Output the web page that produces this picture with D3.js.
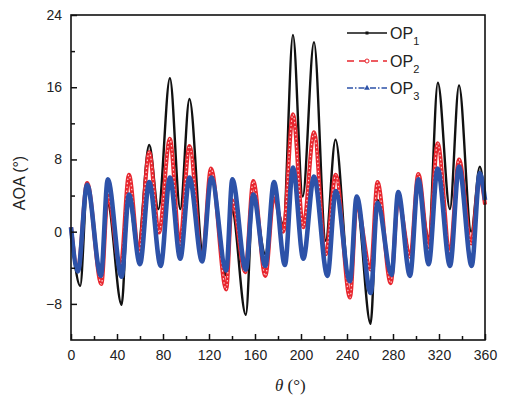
<!DOCTYPE html>
<html>
<head>
<meta charset="utf-8">
<script src="https://cdn.jsdelivr.net/npm/d3@7"></script>
<style>
  body { margin: 0; background: #fff; }
  svg text { font-family: "Liberation Sans", Arial, sans-serif; fill: #222; }
</style>
</head>
<body>
<div id="chart"></div>
<script>
// values (peaks / troughs of each curve)
const op1Theta = [0, 8, 14, 26, 32, 44, 50, 58, 68, 76, 86, 95, 103, 115, 122, 134.5, 140, 152, 158.5, 169, 176, 184.6, 193, 201.5, 211.3, 221.5, 230, 242, 248.4, 260.5, 266.5, 278.5, 284.5, 295, 302, 311, 319, 329.5, 337.4, 348, 355.5, 360]
const op1Aoa = [0.3, -6.0, 4.6, -5.0, 3.0, -8.1, 4.0, -2.0, 9.6, 2.5, 17.0, 2.5, 14.7, -2.7, 6.5, -4.8, 2.4, -9.2, 4.0, -2.5, 4.0, 0.8, 21.8, 3.9, 21.0, -1.0, 10.2, -5.2, 3.0, -10.2, 3.5, -4.6, 3.5, -2.5, 5.5, -0.6, 16.5, 2.5, 16.2, 0.0, 7.2, 3.0]

const op2Theta = [0, 6, 14, 26.4, 32, 43, 50.4, 59, 68, 76.5, 86, 94.5, 103, 114, 121.7, 135, 140, 151.5, 158.5, 169, 176.5, 184.6, 193, 202, 211.3, 221.5, 230.2, 242.6, 248.4, 260.6, 266.5, 278, 284.5, 295, 302, 311, 318.8, 329.5, 337.4, 348, 355.5, 360]
const op2Aoa = [0.5, -4.2, 5.4, -5.8, 4.0, -4.0, 6.3, -2.3, 8.8, -0.1, 10.3, -1.4, 9.5, -3.1, 7.0, -6.4, 3.5, -4.5, 5.6, -4.9, 4.0, 0.0, 13.0, 0.5, 11.0, -2.5, 6.3, -7.3, 3.0, -4.2, 5.5, -5.7, 3.5, -2.8, 6.4, -1.7, 9.8, -2.3, 8.0, -1.3, 6.0, 3.0]

const op3Theta = [0, 6, 14, 26, 32, 44, 50.4, 60, 68, 78, 86, 95, 103, 114, 122, 135, 140.3, 152, 158.5, 169, 176.5, 186, 193, 202, 211.3, 223, 230.2, 242.6, 248.4, 260.6, 266.5, 278.8, 284.5, 294.8, 302, 311, 318.8, 329.6, 337.4, 348.4, 355.5, 360]
const op3Aoa = [0.5, -4.4, 5.2, -4.9, 5.8, -5.0, 4.1, -3.6, 5.5, -3.8, 6.0, -3.0, 6.0, -3.3, 6.0, -4.3, 5.8, -4.2, 4.1, -3.8, 5.5, -3.7, 7.1, -3.0, 6.1, -4.9, 4.5, -5.5, 3.9, -6.8, 3.2, -4.8, 4.4, -4.9, 5.8, -3.6, 7.0, -3.8, 7.2, -3.8, 6.5, 3.5]

const xTicks = [0, 40, 80, 120, 160, 200, 240, 280, 320, 360]
const yTicks = [-8, 0, 8, 16, 24]
const seriesNames = ["OP", "OP", "OP"]
const seriesSubs = ["1", "2", "3"]

const W = 505, H = 399
const margin = {top: 15, right: 20, bottom: 59, left: 71}
const width = W - margin.left - margin.right,
    height = H - margin.top - margin.bottom

const svg = d3.select("#chart")
    .append("svg")
    .attr("width", W)
    .attr("height", H)

const g = svg.append("g")
    .attr("transform", `translate(${margin.left},${margin.top})`)

const x = d3.scaleLinear().domain([0, 360]).range([0, width])
const y = d3.scaleLinear().domain([-12, 24]).range([height, 0])

const toPts = (th, v) => th.map((t, i) => ({t: t, v: v[i]}))
const line = d3.line()
    .x(d => x(d.t))
    .y(d => y(d.v))
    .curve(d3.curveMonotoneX)

const plot = g.append("g")

// OP1 black
plot.append("path")
    .datum(toPts(op1Theta, op1Aoa))
    .attr("d", line)
    .attr("fill", "none")
    .attr("stroke", "#111")
    .attr("stroke-width", 2.4)
    .attr("stroke-linejoin", "round")

// OP2 red, hollow circles drawn densely -> band with white specks
const red = toPts(op2Theta, op2Aoa)
plot.append("path")
    .datum(red)
    .attr("d", line)
    .attr("fill", "none")
    .attr("stroke", "#e8262e")
    .attr("stroke-width", 4)
    .attr("stroke-linejoin", "round")
plot.append("path")
    .datum(red)
    .attr("d", line)
    .attr("fill", "none")
    .attr("stroke", "#fbd3d3")
    .attr("stroke-width", 1.2)
    .attr("stroke-dasharray", "1.5 2.5")

// OP3 blue triangles
plot.append("path")
    .datum(toPts(op3Theta, op3Aoa))
    .attr("d", line)
    .attr("fill", "none")
    .attr("stroke", "#2d52a8")
    .attr("stroke-width", 4.6)
    .attr("stroke-linejoin", "round")

// axes
g.append("g")
    .attr("transform", `translate(0,${height})`)
    .call(d3.axisBottom(x).tickValues(xTicks).tickSize(-6).tickPadding(10))
g.append("g")
    .attr("transform", `translate(0,${height})`)
    .call(d3.axisBottom(x).tickValues(d3.range(20, 360, 40)).tickSize(-4).tickFormat(""))

g.append("g")
    .call(d3.axisLeft(y).tickValues(yTicks).tickSize(-6).tickPadding(9)
        .tickFormat(d => d < 0 ? "\u2212" + Math.abs(d) : d))
g.append("g")
    .call(d3.axisLeft(y).tickValues([-4, 4, 12, 20]).tickSize(-4).tickFormat(""))

g.selectAll(".domain").remove()
g.selectAll(".tick line").attr("stroke", "#111").attr("stroke-width", 1.5)
g.selectAll(".tick text").attr("font-size", 14).attr("fill", "#222")

g.append("rect")
    .attr("width", width)
    .attr("height", height)
    .attr("fill", "none")
    .attr("stroke", "#111")
    .attr("stroke-width", 1.6)

// axis titles
svg.append("text")
    .attr("transform", `translate(25,183) rotate(-90)`)
    .attr("text-anchor", "middle")
    .attr("font-size", 16)
    .text("AOA (°)")

const xt = svg.append("text")
    .attr("x", 275)
    .attr("y", 391)
    .attr("font-size", 17)
    .style("font-family", "'Liberation Serif', 'Times New Roman', serif")
xt.append("tspan").attr("font-style", "italic").text("θ")
xt.append("tspan").text(" (°)")

// legend
const legY = [33, 61, 88]
const leg = svg.append("g")
seriesNames.forEach((name, i) => {
    const row = leg.append("g").attr("transform", `translate(0,${legY[i]})`)
    if (i === 0) {
        row.append("line").attr("x1", 347).attr("x2", 387)
            .attr("stroke", "#111").attr("stroke-width", 1.6)
        row.append("rect").attr("x", 365.5).attr("y", -1.5).attr("width", 3).attr("height", 3).attr("fill", "#111")
    } else if (i === 1) {
        row.append("line").attr("x1", 347).attr("x2", 387)
            .attr("stroke", "#e8262e").attr("stroke-width", 1.6)
            .attr("stroke-dasharray", "7 5")
        row.append("circle").attr("cx", 367).attr("cy", 0).attr("r", 2)
            .attr("fill", "#fff").attr("stroke", "#e8262e").attr("stroke-width", 1)
    } else {
        row.append("line").attr("x1", 347).attr("x2", 387)
            .attr("stroke", "#2d52a8").attr("stroke-width", 1.6)
            .attr("stroke-dasharray", "6 2 1.5 2")
        row.append("path").attr("d", d3.symbol(d3.symbolTriangle, 14)())
            .attr("transform", "translate(367,0)").attr("fill", "#2d52a8")
    }
    const t = row.append("text").attr("x", 390).attr("y", 6).attr("font-size", 16)
    t.append("tspan").text(name)
    t.append("tspan").attr("font-size", 11).attr("dy", 6).text(seriesSubs[i])
})
</script>
</body>
</html>
